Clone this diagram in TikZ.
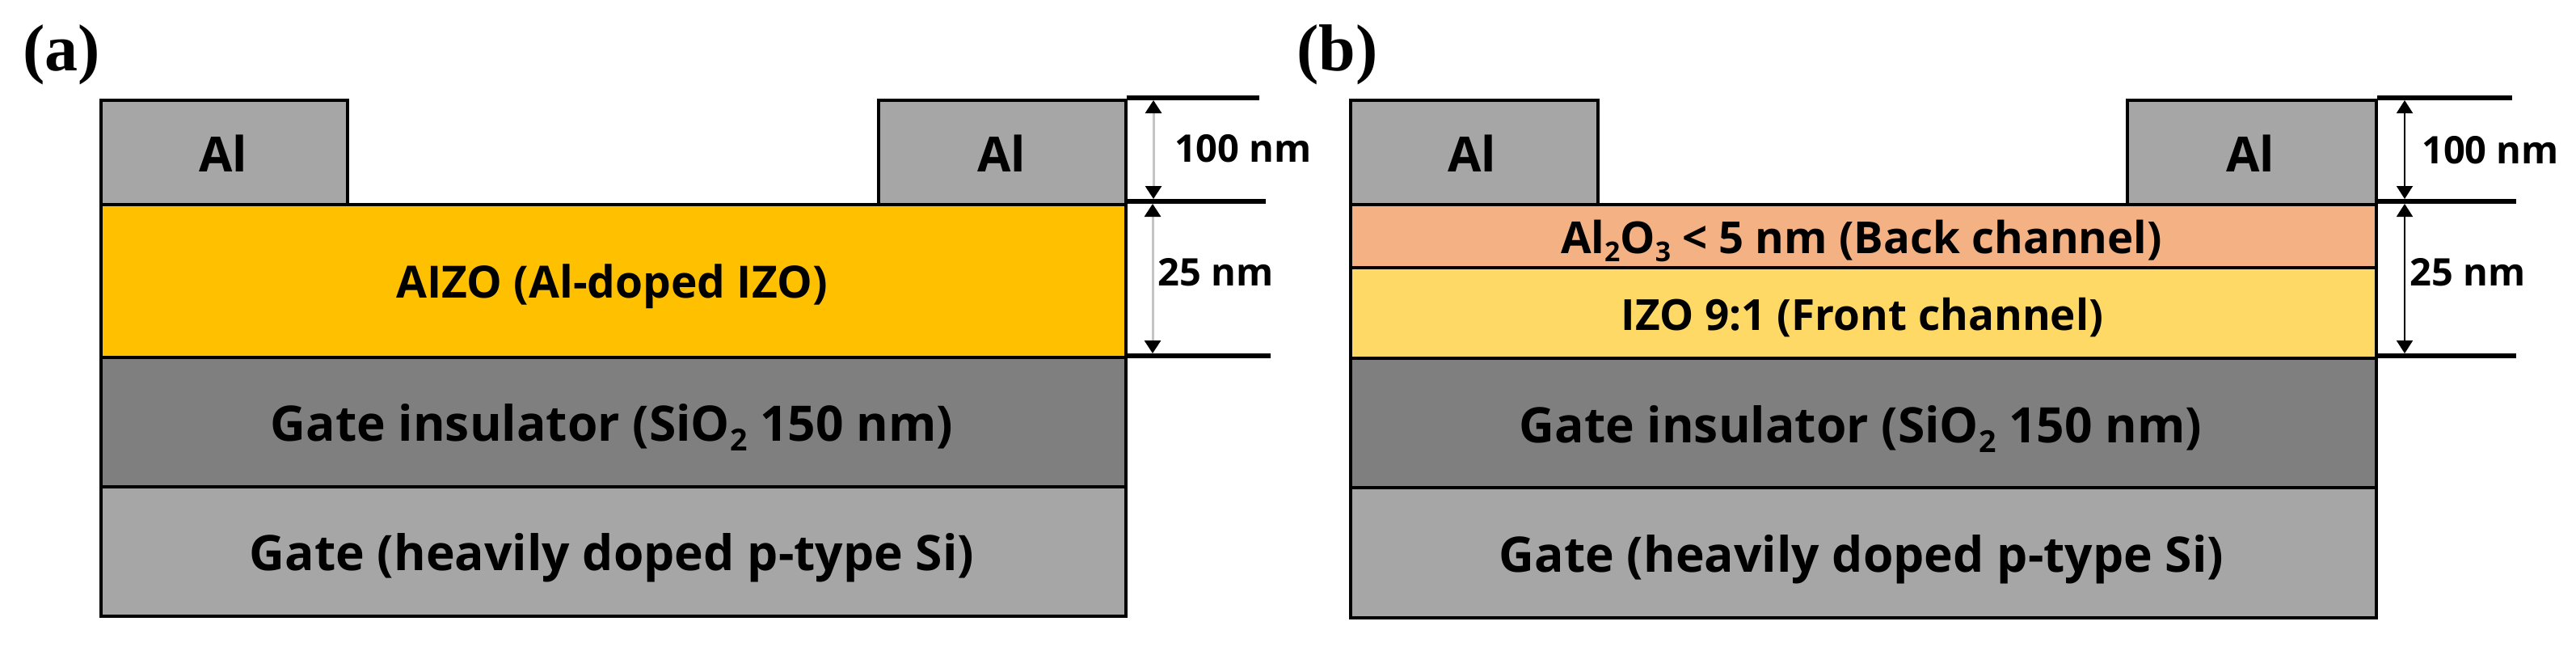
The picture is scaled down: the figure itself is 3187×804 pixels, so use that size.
\documentclass[tikz,border=0pt]{standalone}
\usepackage{fontspec}
\usetikzlibrary{arrows.meta}
\newfontfamily\labbase{Open Sans}
\newcommand{\labfont}{\labbase\bfseries}
\newfontfamily\panelfont{Liberation Serif}
\definecolor{alc}{HTML}{A6A6A6}
\definecolor{aizoc}{HTML}{FFC000}
\definecolor{oxc}{HTML}{7F7F7F}
\definecolor{backc}{HTML}{F4B183}
\definecolor{frontc}{HTML}{FFD966}
\definecolor{thinc}{HTML}{C4C4C4}
\newcommand{\lowidx}[1]{\raisebox{-0.2em}{\fontsize{0.62em}{0.62em}\selectfont #1}}
\newcommand{\fs}[1]{\fontsize{#1}{#1}\selectfont}
% name, colour, x0, y0, x1, y1
\newcommand{\layerbox}[6]{%
  \pgfmathsetmacro{\cxx}{(#3+#5)/2}\pgfmathsetmacro{\cyy}{(#4+#6)/2}%
  \pgfmathsetmacro{\ww}{#5-#3}\pgfmathsetmacro{\hh}{#6-#4}%
  \node[layerstyle,fill=#2,minimum width=\ww pt,minimum height=\hh pt] (#1) at (\cxx,\cyy) {};}
\tikzset{
  layerstyle/.style={draw=black,line width=3.5pt,inner sep=0pt,outer sep=0pt},
  txt/.style={anchor=base,inner sep=0pt,font=\labfont},
  paneltxt/.style={anchor=base west,inner sep=0pt,font=\panelfont\bfseries\fs{82}},
  tick/.style={line width=6pt,black},
  dimA/.style={line width=3pt,thinc,{Triangle[width=20pt,length=16pt,black]}-{Triangle[width=20pt,length=16pt,black]},shorten >=0pt,shorten <=0pt},
  dimB/.style={line width=2pt,black,{Triangle[width=20pt,length=16pt,black]}-{Triangle[width=20pt,length=16pt,black]}},
}
\begin{document}
\begin{tikzpicture}[x=1pt,y=-1pt]
\useasboundingbox (0,0) rectangle (3187,804);
% panel a
\layerbox{gateA}{alc}{125}{602}{1393}{762}
\layerbox{oxA}{oxc}{125}{442}{1393}{602}
\layerbox{aizoA}{aizoc}{125}{253}{1393}{442}
\layerbox{alLA}{alc}{125}{124}{430}{253}
\layerbox{alRA}{alc}{1087}{124}{1393}{253}
% panel b
\layerbox{gateB}{alc}{1671}{603}{2940}{764}
\layerbox{oxB}{oxc}{1671}{443}{2940}{603}
\layerbox{frontB}{frontc}{1671}{331}{2940}{443}
\layerbox{backB}{backc}{1671}{253}{2940}{331}
\layerbox{alLB}{alc}{1671}{124}{1977}{253}
\layerbox{alRB}{alc}{2632}{124}{2940}{253}
% panel labels
\node[paneltxt] (pa) at (28,87) {(a)};
\node[paneltxt] (pb) at (1604,87) {(b)};
% texts a
\node[txt,font=\labfont\fs{60}] (tAl1) at (276,212) {Al};
\node[txt,font=\labfont\fs{60}] (tAl2) at (1239,212) {Al};
\node[txt,font=\labfont\fs{55}] (tAizo) at (757,368) {AIZO (Al-doped IZO)};
\node[txt,font=\labfont\fs{60.5}] (tOx) at (757,545) {Gate insulator (SiO\lowidx{2} 150 nm)};
\node[txt,font=\labfont\fs{60.5}] (tGate) at (757,705) {Gate (heavily doped p-type Si)};
% texts b
\node[txt,font=\labfont\fs{60}] (uAl1) at (1821,212) {Al};
\node[txt,font=\labfont\fs{60}] (uAl2) at (2784,212) {Al};
\node[txt,font=\labfont\fs{54.5}] (uBack) at (2303,313) {Al\lowidx{2}O\lowidx{3} < 5 nm (Back channel)};
\node[txt,font=\labfont\fs{53}] (uFront) at (2304,408) {IZO 9:1 (Front channel)};
\node[txt,font=\labfont\fs{60.5}] (uOx) at (2302,547) {Gate insulator (SiO\lowidx{2} 150 nm)};
\node[txt,font=\labfont\fs{60.5}] (uGate) at (2303,707) {Gate (heavily doped p-type Si)};
% dimension a
\coordinate (a1) at (1394,121); \coordinate (a1e) at (1558,121);
\coordinate (a2) at (1394,249); \coordinate (a2e) at (1566,249);
\coordinate (a3) at (1394,440); \coordinate (a3e) at (1572,440);
\draw[tick] (a1) -- (a1e);
\draw[tick] (a2) -- (a2e);
\draw[tick] (a3) -- (a3e);
\coordinate (a1m) at (1427,124); \coordinate (a2m) at (1427,246);
\coordinate (a2n) at (1426,252); \coordinate (a3m) at (1426,437);
\draw[dimA] (a1m) -- (a2m);
\draw[dimA] (a2n) -- (a3m);
\node[txt,font=\labfont\fs{47}] (dA1) at (1538,200) {100 nm};
\node[txt,font=\labfont\fs{47}] (dA2) at (1504,353) {25 nm};
% dimension b
\coordinate (b1) at (2941,121); \coordinate (b1e) at (3108,121);
\coordinate (b2) at (2941,249); \coordinate (b2e) at (3113,249);
\coordinate (b3) at (2941,440); \coordinate (b3e) at (3113,440);
\draw[tick] (b1) -- (b1e);
\draw[tick] (b2) -- (b2e);
\draw[tick] (b3) -- (b3e);
\coordinate (b1m) at (2975,124); \coordinate (b2m) at (2975,246);
\coordinate (b2n) at (2975,252); \coordinate (b3m) at (2975,437);
\draw[dimB] (b1m) -- (b2m);
\draw[dimB] (b2n) -- (b3m);
\node[txt,font=\labfont\fs{47}] (dB1) at (3081,202) {100 nm};
\node[txt,font=\labfont\fs{47}] (dB2) at (3053,353) {25 nm};
\end{tikzpicture}
\end{document}
